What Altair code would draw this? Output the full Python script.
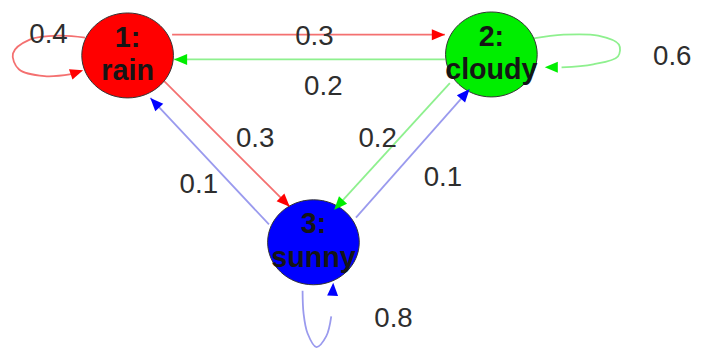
import altair as alt
import pandas as pd
import numpy as np

# ---- nodes ----
node_names = ["rain", "cloudy", "sunny"]
node_ids = ["1:", "2:", "3:"]
node_x = [129, 497, 317]
node_y = [54, 53, 243]
node_fill = ["#ff0000", "#00ee00", "#0000ff"]
edge_line_color = {"rain": "#f47070", "cloudy": "#8ef08e", "sunny": "#9a9aee"}
arrow_color = {"rain": "#ff0000", "cloudy": "#00ee00", "sunny": "#0000ff"}

# ---- straight edges (transition probabilities) ----
edge_from = ["rain", "cloudy", "rain", "sunny", "cloudy", "sunny"]
edge_to = ["cloudy", "rain", "sunny", "rain", "sunny", "cloudy"]
edge_prob = ["0.3", "0.2", "0.3", "0.1", "0.2", "0.1"]
edge_x1 = [174, 450, 166, 272, 455, 360]
edge_y1 = [33, 58, 80, 225, 82, 218]
edge_x2 = [450, 176, 293, 152, 338, 475]
edge_y2 = [33, 58, 207, 97, 210, 88]
edge_label_x = [318, 327, 258, 201, 382, 448]
edge_label_y = [35, 86, 139, 185, 139, 178]

# ---- self loops ----
loop_node = ["rain"] * 7 + ["cloudy"] * 7 + ["sunny"] * 6
loop_x = [86, 60, 30, 13, 19, 45, 72,
          538, 570, 605, 626, 625, 600, 568,
          306, 307, 311, 320, 330, 335]
loop_y = [36, 34, 38, 52, 68, 75, 73,
          37, 33, 34, 43, 55, 63, 66,
          292, 315, 335, 349, 338, 318]
loop_names = ["rain", "cloudy", "sunny"]
loop_prob = ["0.4", "0.6", "0.8"]
loop_label_x = [49, 680, 398]
loop_label_y = [33, 56, 321]
loop_tail_x = [72, 568, 336]
loop_tail_y = [73, 66, 305]
loop_tip_x = [84, 551, 337]
loop_tip_y = [69, 66, 284]

# ---- tables ----
nodes = pd.DataFrame({"name": node_names, "id": node_ids, "x": node_x,
                      "y": node_y, "fill": node_fill})

edges = pd.DataFrame({"src": edge_from, "dst": edge_to, "p": edge_prob,
                      "x1": edge_x1, "y1": edge_y1, "x2": edge_x2, "y2": edge_y2,
                      "lx": edge_label_x, "ly": edge_label_y})
edges["lc"] = edges["src"].map(edge_line_color)
edges["ac"] = edges["src"].map(arrow_color)

loops = pd.DataFrame({"node": loop_node, "x": loop_x, "y": loop_y})
loops["seq"] = range(len(loops))
loops["lc"] = loops["node"].map(edge_line_color)

loop_info = pd.DataFrame({"node": loop_names, "p": loop_prob,
                          "lx": loop_label_x, "ly": loop_label_y,
                          "x1": loop_tail_x, "y1": loop_tail_y,
                          "x2": loop_tip_x, "y2": loop_tip_y})
loop_info["ac"] = loop_info["node"].map(arrow_color)

arrows = pd.concat([edges[["x1", "y1", "x2", "y2", "ac"]],
                    loop_info[["x1", "y1", "x2", "y2", "ac"]]], ignore_index=True)
arrows["ang"] = np.degrees(np.arctan2(arrows["x2"] - arrows["x1"],
                                      -(arrows["y2"] - arrows["y1"]))) % 360

labels = pd.concat([edges[["p", "lx", "ly"]], loop_info[["p", "lx", "ly"]]],
                   ignore_index=True)

# ---- scales: data units == page pixels ----
W, H = 696, 343
xs = alt.Scale(domain=[8, 704], nice=False, zero=False)
ys = alt.Scale(domain=[8, 351], nice=False, zero=False, reverse=True)


def X(f):
    return alt.X(f"{f}:Q", scale=xs, axis=None)


def Y(f):
    return alt.Y(f"{f}:Q", scale=ys, axis=None)


edge_lines = alt.Chart(edges).mark_rule(strokeWidth=1.8).encode(
    x=X("x1"), y=Y("y1"), x2="x2:Q", y2="y2:Q",
    color=alt.Color("lc:N", scale=None))

loop_lines = alt.Chart(loops).mark_line(strokeWidth=1.8, interpolate="catmull-rom").encode(
    x=X("x"), y=Y("y"), detail="node:N", order="seq:Q",
    color=alt.Color("lc:N", scale=None))

ellipse = "M-1.03,0A1.03,0.955 0 1,0 1.03,0A1.03,0.955 0 1,0 -1.03,0Z"
node_marks = alt.Chart(nodes).mark_point(filled=True, opacity=1, stroke="#333333",
                                         strokeWidth=1, shape=ellipse, size=8100).encode(
    x=X("x"), y=Y("y"), fill=alt.Fill("fill:N", scale=None))

arrow_marks = alt.Chart(arrows).mark_point(
    filled=True, opacity=1, strokeWidth=0, size=700,
    shape="M0,0L-0.42,1L0.42,1Z").encode(
    x=X("x2"), y=Y("y2"), angle=alt.Angle("ang:Q", scale=None),
    color=alt.Color("ac:N", scale=None))

font = "Liberation Sans"
id_text = alt.Chart(nodes).mark_text(font=font, fontSize=29, fontWeight="bold",
                                     color="#151515", baseline="alphabetic", dy=-9).encode(
    x=X("x"), y=Y("y"), text="id:N")
name_text = alt.Chart(nodes).mark_text(font=font, fontSize=29, fontWeight="bold",
                                       color="#151515", baseline="alphabetic", dy=25).encode(
    x=X("x"), y=Y("y"), text="name:N")
prob_text = alt.Chart(labels).mark_text(font=font, fontSize=28, color="#2e2e2e",
                                        baseline="middle").encode(
    x=X("lx"), y=Y("ly"), text="p:N")

chart = alt.layer(edge_lines, loop_lines, node_marks, arrow_marks,
                  id_text, name_text, prob_text).properties(
    width=W, height=H, padding=0, autosize=alt.AutoSizeParams(type="none"),
    background="white").configure_view(stroke=None)

chart.save("out.html", embed_options={"renderer": "svg", "actions": False})
